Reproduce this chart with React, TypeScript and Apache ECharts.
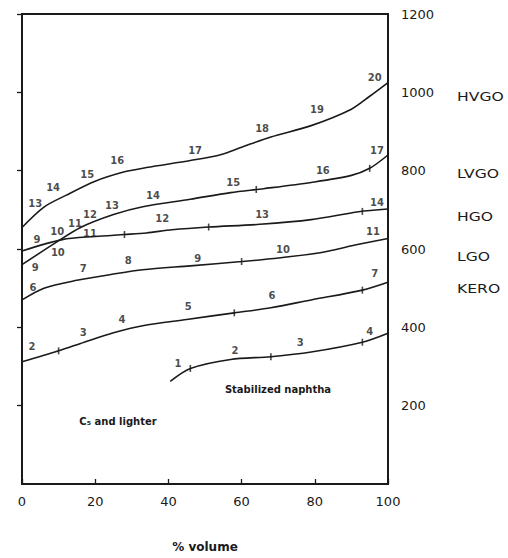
import React, { useEffect, useRef } from "react";
import * as echarts from "echarts";

// Curves: [% volume, temperature]
const hvgo: number[][] = [[0, 655], [6, 707], [12, 737], [20, 773], [28, 797], [34, 808], [46, 826], [54, 840], [60, 860], [68, 886], [79, 915], [90, 957], [95, 990], [100, 1025]];
const lvgo: number[][] = [[0, 560], [9, 615], [16, 655], [25, 688], [33, 708], [46, 727], [57, 744], [66, 754], [79, 770], [90, 788], [95, 806], [100, 840]];
const hgo: number[][] = [[0, 595], [11, 624], [20, 632], [28, 637], [34, 641], [41, 649], [51, 656], [65, 663], [79, 675], [92, 695], [100, 702]];
const lgo: number[][] = [[0, 470], [6, 500], [15, 520], [25, 536], [33, 547], [46, 557], [60, 568], [68, 575], [81, 590], [92, 612], [100, 627]];
const kero: number[][] = [[0, 312], [10, 340], [17, 362], [25, 386], [33, 404], [45, 420], [58, 437], [68, 450], [79, 470], [93, 495], [100, 515]];
const naphtha: number[][] = [[40.5, 262], [46, 295], [57, 318], [68, 325], [79, 337], [93, 362], [100, 385]];

// Number annotations along the curves: [x, y, label]
const hvgoLabels: (number | string)[][] = [[3.6, 715, "13"], [8.5, 757, "14"], [17.8, 790, "15"], [26, 825, "16"], [47.3, 852, "17"], [65.6, 907, "18"], [80.6, 957, "19"], [96.4, 1037, "20"]];
const lvgoLabels: (number | string)[][] = [[3.6, 552, "9"], [9.6, 645, "10"], [14.5, 665, "11"], [18.6, 687, "12"], [24.6, 712, "13"], [35.8, 737, "14"], [57.7, 770, "15"], [82.2, 800, "16"], [97, 852, "17"]];
const hgoLabels: (number | string)[][] = [[4.1, 625, "9"], [9.8, 590, "10"], [18.6, 640, "11"], [38.3, 677, "12"], [65.6, 687, "13"], [97, 720, "14"]];
const lgoLabels: (number | string)[][] = [[3, 502, "6"], [16.7, 550, "7"], [29, 570, "8"], [48, 577, "9"], [71.3, 600, "10"], [95.9, 645, "11"]];
const keroLabels: (number | string)[][] = [[2.7, 350, "2"], [16.7, 387, "3"], [27.3, 420, "4"], [45.4, 452, "5"], [68.3, 482, "6"], [96.4, 537, "7"]];
const naphthaLabels: (number | string)[][] = [[42.6, 307, "1"], [58.2, 340, "2"], [76, 362, "3"], [95, 390, "4"]];

// Cross-marks on the curves
const curveTicks: number[][] = [[28, 637], [51, 656], [93, 696], [64, 752], [95, 806], [60, 568], [10, 340], [58, 437], [93, 495], [46, 295], [68, 325], [93, 362]];

const fractionNames = ["HVGO", "LVGO", "HGO", "LGO", "KERO"];
const fractionNameY = [96, 173, 216, 256, 288];

const xTicks = [0, 20, 40, 60, 80, 100];
const yMin = 0;
const yMax = 1200;
const yStep = 200;

const FONT = "DejaVu Sans";
const INK = "#1a1a1a";

export default function App() {
  const ref = useRef<HTMLDivElement>(null);

  useEffect(() => {
    if (!ref.current) return;
    const chart = echarts.init(ref.current, null, { renderer: "svg" });

    const curves = [hvgo, lvgo, hgo, lgo, kero, naphtha];
    const labelSets = [hvgoLabels, lvgoLabels, hgoLabels, lgoLabels, keroLabels, naphthaLabels];

    const lineSeries = curves.map((d, i) => ({
      type: "line",
      name: i < fractionNames.length ? fractionNames[i] : "Stabilized naphtha",
      data: d,
      smooth: 0.3,
      showSymbol: false,
      symbol: "none",
      lineStyle: { color: INK, width: 1.6 },
      z: 3,
    }));

    const labelSeries = {
      type: "scatter",
      data: labelSets.flat(),
      symbolSize: 0,
      label: {
        show: true,
        position: "inside",
        formatter: (p: any) => String(p.value[2]),
        fontFamily: FONT,
        fontSize: 10,
        fontWeight: "bold",
        color: INK,
      },
      z: 4,
    };

    const tickSeries = {
      type: "scatter",
      data: curveTicks,
      symbol: "rect",
      symbolSize: [1.6, 7],
      itemStyle: { color: INK },
      z: 4,
    };

    const graphics: any[] = fractionNames.map((n, i) => ({
      type: "text",
      x: 457,
      y: fractionNameY[i],
      scaleX: 1.2,
      style: {
        text: n,
        fontFamily: FONT,
        fontSize: 13,
        fill: INK,
        textAlign: "left",
        textVerticalAlign: "middle",
      },
    }));
    graphics.push({
      type: "text",
      x: 118,
      y: 421,
      style: {
        text: "C\u2085 and lighter",
        fontFamily: FONT,
        fontSize: 10,
        fontWeight: "bold",
        fill: INK,
        textAlign: "center",
        textVerticalAlign: "middle",
      },
    });
    graphics.push({
      type: "text",
      x: 278,
      y: 389,
      style: {
        text: "Stabilized naphtha",
        fontFamily: FONT,
        fontSize: 10,
        fontWeight: "bold",
        fill: INK,
        textAlign: "center",
        textVerticalAlign: "middle",
      },
    });

    chart.setOption({
      animation: false,
      backgroundColor: "#ffffff",
      grid: {
        left: 22,
        right: 120,
        top: 14,
        bottom: 68,
        show: true,
        borderColor: INK,
        borderWidth: 2,
        backgroundColor: "transparent",
      },
      xAxis: {
        type: "value",
        min: xTicks[0],
        max: xTicks[xTicks.length - 1],
        interval: 20,
        name: "% volume",
        nameLocation: "middle",
        nameGap: 57,
        nameTextStyle: { fontFamily: FONT, fontSize: 12, fontWeight: "bold", color: INK },
        axisLine: { show: true, lineStyle: { color: INK, width: 2 } },
        axisTick: { show: true, inside: true, length: 5, lineStyle: { color: INK, width: 1.3 } },
        axisLabel: { fontFamily: FONT, fontSize: 13, color: INK, margin: 11 },
        splitLine: { show: false },
      },
      yAxis: {
        type: "value",
        position: "right",
        min: yMin,
        max: yMax,
        interval: yStep,
        axisLine: { show: true, lineStyle: { color: INK, width: 2 } },
        axisTick: { show: true, inside: true, length: 5, lineStyle: { color: INK, width: 1.3 } },
        axisLabel: {
          fontFamily: FONT,
          fontSize: 13,
          color: INK,
          margin: 13,
          showMinLabel: false,
          align: "left",
          formatter: (v: number) => String(v),
        },
        splitLine: { show: false },
      },
      graphic: graphics,
      series: [...lineSeries, labelSeries, tickSeries],
    });

    return () => chart.dispose();
  }, []);

  return (
    <div
      ref={ref}
      style={{ position: "absolute", left: 0, top: 0, width: 508, height: 558, background: "#fff" }}
    />
  );
}
